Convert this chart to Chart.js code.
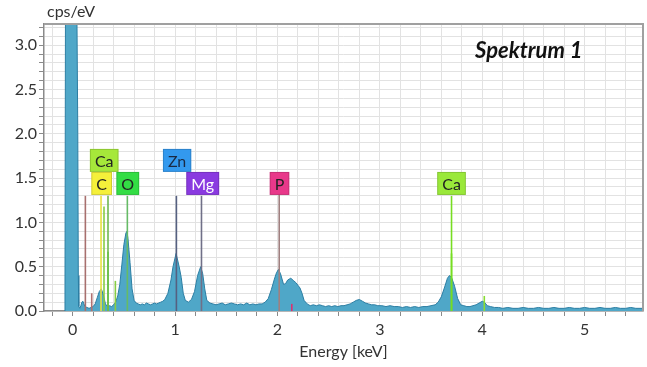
<!DOCTYPE html>
<html>
<head>
<meta charset="utf-8">
<script src="https://cdn.jsdelivr.net/npm/chart.js@4/dist/chart.umd.min.js"></script>
<style>
body{margin:0;background:#fff;}
#box{width:647px;height:367px;}
</style>
</head>
<body>
<div id="box"><canvas id="c" width="647" height="367"></canvas></div>
<script>
/* ESPECTRO [energia keV, cps/eV] */
const espectro=[
[-0.08,0],[-0.075,0.3],[-0.07,3.6],[-0.05,3.6],[0.04,3.6],[0.05,2.0],[0.055,0.4],[0.06,0.05],
[0.07,0.03],[0.08,0.06],[0.09,0.10],[0.10,0.11],[0.11,0.08],[0.12,0.05],[0.14,0.04],[0.16,0.03],
[0.18,0.04],[0.20,0.05],[0.22,0.08],[0.24,0.15],[0.26,0.22],[0.28,0.25],[0.30,0.18],[0.32,0.08],
[0.34,0.05],[0.36,0.06],[0.38,0.05],[0.40,0.07],[0.42,0.10],[0.44,0.17],[0.46,0.30],[0.48,0.52],
[0.50,0.75],[0.52,0.88],[0.53,0.90],[0.54,0.82],[0.56,0.55],[0.58,0.25],[0.60,0.12],[0.62,0.09],
[0.64,0.08],[0.66,0.07],[0.68,0.08],[0.70,0.07],[0.72,0.09],[0.74,0.08],[0.76,0.07],[0.78,0.08],
[0.80,0.09],[0.82,0.08],[0.84,0.09],[0.86,0.10],[0.88,0.11],[0.90,0.13],[0.93,0.20],[0.96,0.35],
[0.98,0.50],[1.00,0.60],[1.01,0.65],[1.02,0.60],[1.04,0.50],[1.06,0.38],[1.08,0.20],[1.10,0.12],
[1.13,0.10],[1.16,0.13],[1.19,0.22],[1.22,0.40],[1.25,0.50],[1.27,0.42],[1.29,0.25],[1.31,0.12],
[1.34,0.09],[1.37,0.08],[1.40,0.07],[1.43,0.08],[1.46,0.09],[1.49,0.07],[1.52,0.08],[1.55,0.09],
[1.58,0.08],[1.61,0.07],[1.64,0.08],[1.67,0.07],[1.70,0.09],[1.73,0.07],[1.76,0.08],[1.79,0.07],
[1.82,0.08],[1.85,0.08],[1.88,0.10],[1.91,0.14],[1.94,0.24],[1.97,0.36],[1.99,0.43],[2.01,0.47],
[2.03,0.42],[2.06,0.30],[2.08,0.31],[2.10,0.35],[2.13,0.37],[2.16,0.34],[2.18,0.32],[2.20,0.29],
[2.22,0.26],[2.24,0.20],[2.26,0.12],[2.29,0.08],[2.32,0.06],[2.35,0.07],[2.38,0.06],[2.41,0.07],
[2.44,0.06],[2.47,0.05],[2.50,0.06],[2.53,0.05],[2.56,0.06],[2.59,0.05],[2.62,0.06],[2.65,0.06],
[2.68,0.07],[2.71,0.08],[2.74,0.10],[2.77,0.12],[2.80,0.13],[2.83,0.11],[2.86,0.09],[2.89,0.08],
[2.92,0.07],[2.95,0.07],[2.98,0.06],[3.02,0.06],[3.06,0.05],[3.10,0.06],[3.14,0.05],[3.18,0.05],
[3.22,0.04],[3.26,0.05],[3.30,0.04],[3.34,0.05],[3.38,0.04],[3.42,0.05],[3.46,0.05],[3.50,0.06],
[3.54,0.07],[3.57,0.10],[3.60,0.16],[3.63,0.26],[3.66,0.37],[3.68,0.40],[3.70,0.38],[3.73,0.28],
[3.76,0.14],[3.79,0.07],[3.82,0.06],[3.85,0.05],[3.88,0.05],[3.91,0.06],[3.94,0.07],[3.97,0.09],
[4.00,0.11],[4.02,0.10],[4.05,0.06],[4.08,0.05],[4.12,0.04],[4.16,0.04],[4.20,0.03],[4.25,0.04],
[4.30,0.03],[4.35,0.03],[4.40,0.04],[4.45,0.03],[4.50,0.03],[4.55,0.04],[4.60,0.03],[4.65,0.03],
[4.70,0.04],[4.75,0.03],[4.80,0.03],[4.85,0.04],[4.90,0.03],[4.95,0.03],[5.00,0.04],[5.05,0.03],
[5.10,0.03],[5.15,0.04],[5.20,0.03],[5.25,0.03],[5.30,0.04],[5.35,0.03],[5.40,0.03],[5.45,0.04],
[5.50,0.03],[5.57,0.03]
];

/* LINHAS DOS ELEMENTOS */
const linhaE=[0.124,0.186,0.277,0.306,0.345,0.345,0.417,0.534,1.013,1.258,2.017,2.14,3.70,3.70,4.02];
const linhaH=[1.30,0.20,1.30,1.18,1.30,0.67,0.34,1.30,1.30,1.30,1.32,0.08,1.30,0.65,0.17];
const linhaCor=['#a8706e','#b07070','#e8e040','#88cc44','#70b850','#55dd22','#88cc44','#66bb66',
'#556080','#707088','#a08080','#dd3070','#77dd22','#66dd11','#88dd33'];

/* ROTULOS */
const rotTxt=['Ca','C','O','Zn','Mg','P','Ca'];
const rotE=[0.308,0.283,0.538,1.02,1.27,2.02,3.70];
const rotY=[1.70,1.44,1.44,1.70,1.44,1.44,1.44];
const rotFundo=['#a6e83a','#f5f03a','#33dd44','#3399ee','#8a3ae0','#e8388a','#9ae83a'];
const rotTexto=['#222','#222','#222','#1a2a44','#fff','#222','#222'];

const ticksX={min:-0.28,max:5.57,step:0.2};
const ticksY={min:0,max:3.24,step:0.1};

const fonte='Lato, "Open Sans", sans-serif';

let ds=[];
linhaE.forEach((e,i)=>{
ds.push({data:[{x:e,y:0},{x:e,y:linhaH[i]}],borderColor:linhaCor[i],borderWidth:1.6,
pointRadius:0,fill:false,order:0});
});
ds.push({data:espectro.map(p=>({x:p[0],y:p[1]})),borderColor:'#2c7ea3',borderWidth:1,
backgroundColor:'#4fa7c8',fill:'origin',pointRadius:0,tension:0,order:10});

/* PLUGIN */
const extra={
id:'extra',
afterDraw(ch){
let c=ch.ctx,a=ch.chartArea,x=ch.scales.x,y=ch.scales.y;
c.save();
c.strokeStyle='#a0a0a0';c.lineWidth=2;
c.beginPath();c.moveTo(a.left,a.top);c.lineTo(a.right,a.top);c.lineTo(a.right,a.bottom);c.stroke();

c.font='16px '+fonte;c.textBaseline='middle';c.fillStyle='#333';c.textAlign='left';
c.fillText('cps/eV',47,12);

c.font='italic bold 22px '+fonte;c.fillStyle='#111';
c.fillText('Spektrum 1',475,51);

c.font='16px '+fonte;c.textAlign='center';
rotTxt.forEach((t,i)=>{
let px=x.getPixelForValue(rotE[i]),py=y.getPixelForValue(rotY[i]);
let w=c.measureText(t).width+10,h=23;
c.fillStyle=rotFundo[i];
c.fillRect(px-w/2,py-h/2,w,h);
c.strokeStyle='rgba(0,0,0,0.15)';c.lineWidth=1;
c.strokeRect(px-w/2+0.5,py-h/2+0.5,w-1,h-1);
c.fillStyle=rotTexto[i];
c.fillText(t,px,py+1);
});
c.restore();
}
};

new Chart(document.getElementById('c'),{
type:'line',
data:{datasets:ds},
options:{
responsive:false,animation:false,
layout:{padding:{top:24,right:4,left:0,bottom:0}},
plugins:{legend:{display:false},tooltip:{enabled:false}},
scales:{
x:{type:'linear',min:ticksX.min,max:ticksX.max,
afterFit:s=>{s.height=56;},
grid:{color:'#e2e2e2',tickColor:'#8a8a8a',tickLength:5},
border:{color:'#8a8a8a',width:1.5},
ticks:{stepSize:ticksX.step,includeBounds:false,autoSkip:false,maxRotation:0,padding:4,
color:'#333',font:{family:fonte,size:16},
callback:v=>Math.abs(v-Math.round(v))<1e-6?String(Math.round(v)):''},
title:{display:true,text:'Energy [keV]',color:'#333',font:{family:fonte,size:16},padding:{top:4,bottom:6}}
},
y:{min:ticksY.min,max:ticksY.max,
afterFit:s=>{s.width=44;},
grid:{color:'#e2e2e2',tickColor:'#8a8a8a',tickLength:5},
border:{color:'#8a8a8a',width:1.5},
ticks:{stepSize:ticksY.step,includeBounds:false,autoSkip:false,padding:2,
color:'#333',font:{family:fonte,size:16},
callback:v=>{let k=Math.round(v*10);return k%5==0?(k/10).toFixed(1):'';}}
}
}
},
plugins:[extra]
});
</script>
</body>
</html>
